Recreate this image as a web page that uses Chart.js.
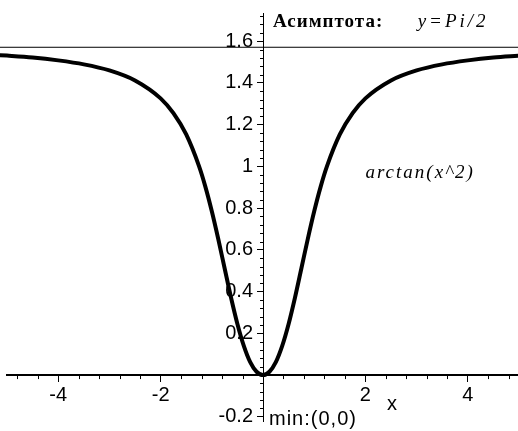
<!DOCTYPE html>
<html>
<head>
<meta charset="utf-8">
<script src="https://cdn.jsdelivr.net/npm/chart.js@4"></script>
<style>
  html, body { margin: 0; padding: 0; background: #fff; overflow: hidden; }
  #wrap { width: 518px; height: 431px; }
</style>
</head>
<body>
<div id="wrap"><canvas id="chart"></canvas></div>
<script>
// values: y = arctan(x^2)
const curveX = [-5.2, -5, -4.5, -4, -3.5, -3, -2.5, -2, -1.75, -1.5, -1.25, -1.125, -1, -0.875, -0.75, -0.625, -0.5, -0.375, -0.25, -0.125, 0,
                0.125, 0.25, 0.375, 0.5, 0.625, 0.75, 0.875, 1, 1.125, 1.25, 1.5, 1.75, 2, 2.5, 3, 3.5, 4, 4.5, 5];
const curveY = [1.534, 1.531, 1.522, 1.508, 1.489, 1.460, 1.412, 1.326, 1.255, 1.153, 1.001, 0.902, 0.785, 0.653, 0.512, 0.372, 0.245, 0.140, 0.062, 0.016, 0,
                0.016, 0.062, 0.140, 0.245, 0.372, 0.512, 0.653, 0.785, 0.902, 1.001, 1.153, 1.255, 1.326, 1.412, 1.460, 1.489, 1.508, 1.522, 1.531];
const asymptoteX = [-5.2, 5];
const asymptoteY = [1.5708, 1.5708];

const xTicks = [-4, -2, 2, 4];
const yTicks = [-0.2, 0.2, 0.4, 0.6, 0.8, 1, 1.2, 1.4, 1.6];

const toPoints = (xs, ys) => xs.map((x, i) => ({ x: x, y: ys[i] }));

// axes sit inside the plot, so they take no room of their own
const noRoom = s => {
  if (s.isHorizontal()) s.height = 0; else s.width = 0;
  s.paddingLeft = s.paddingRight = s.paddingTop = s.paddingBottom = 0;
};

// minor tick marks and text labels, placed through the chart scales
const extras = {
  id: 'extras',
  afterDraw(chart) {
    const ctx = chart.ctx;
    const xs = chart.scales.x, ys = chart.scales.y;
    const x0 = xs.getPixelForValue(0), y0 = ys.getPixelForValue(0);
    ctx.save();
    ctx.strokeStyle = '#000';
    ctx.lineWidth = 1;
    ctx.beginPath();
    for (let i = -12; i <= 12; i++) {
      if (i % 5 === 0) continue;
      const px = Math.round(xs.getPixelForValue(i * 0.4)) + 0.5;
      if (px < chart.chartArea.left) continue;
      ctx.moveTo(px, y0);
      ctx.lineTo(px, y0 + 4);
    }
    for (let i = -5; i <= 43; i++) {
      if (i % 5 === 0) continue;
      const py = Math.round(ys.getPixelForValue(i * 0.04)) + 0.5;
      ctx.moveTo(x0, py);
      ctx.lineTo(x0 - 3, py);
    }
    ctx.stroke();

    ctx.fillStyle = '#000';
    ctx.textBaseline = 'alphabetic';
    ctx.textAlign = 'left';
    ctx.font = 'bold 19px "Liberation Serif", serif';
    ctx.letterSpacing = '1px';
    ctx.fillText('Асимптота:', x0 + 10, 27);
    ctx.font = 'italic 19px "Liberation Serif", serif';
    ctx.letterSpacing = '3px';
    ctx.fillText('y=Pi/2', xs.getPixelForValue(3.02), 27);
    ctx.letterSpacing = '2px';
    ctx.fillText('arctan(x^2)', xs.getPixelForValue(2.0), 178);
    ctx.font = '20px "Liberation Sans", Arial, sans-serif';
    ctx.letterSpacing = '0px';
    ctx.fillText('x', xs.getPixelForValue(2.42), 410);
    ctx.letterSpacing = '1px';
    ctx.fillText('min:(0,0)', x0 + 6, 425);
    ctx.restore();
  }
};

new Chart(document.getElementById('chart'), {
  type: 'line',
  data: {
    datasets: [
      {
        data: toPoints(asymptoteX, asymptoteY),
        borderColor: '#000',
        borderWidth: 1,
        pointRadius: 0,
        clip: false
      },
      {
        data: toPoints(curveX, curveY),
        borderColor: '#000',
        borderWidth: 4,
        pointRadius: 0,
        cubicInterpolationMode: 'monotone',
        clip: false
      }
    ]
  },
  options: {
    responsive: true,
    maintainAspectRatio: false,
    animation: false,
    layout: { padding: { left: 7, right: 0, top: 13, bottom: 10 } },
    plugins: { legend: { display: false }, tooltip: { enabled: false } },
    scales: {
      x: {
        type: 'linear',
        min: -5,
        max: 4.98,
        position: { y: 0 },
        afterFit: noRoom,
        afterBuildTicks: s => { s.ticks = xTicks.map(v => ({ value: v })); },
        grid: { drawOnChartArea: false, drawTicks: true, tickLength: 6, tickColor: '#000', tickWidth: 1 },
        border: { display: true, color: '#000', width: 2 },
        ticks: {
          color: '#000',
          padding: 2,
          maxRotation: 0,
          font: { family: '"Liberation Sans", Arial, sans-serif', size: 20 },
          callback: v => String(v)
        }
      },
      y: {
        type: 'linear',
        min: -0.22,
        max: 1.735,
        position: { x: 0 },
        afterFit: noRoom,
        afterBuildTicks: s => { s.ticks = yTicks.map(v => ({ value: v })); },
        grid: { drawOnChartArea: false, drawTicks: true, tickLength: 6, tickColor: '#000', tickWidth: 1 },
        border: { display: true, color: '#000', width: 1 },
        ticks: {
          color: '#000',
          font: { family: '"Liberation Sans", Arial, sans-serif', size: 20 },
          // label sits right-aligned on the axis line; an en space keeps it clear of the ticks
          callback: v => String(Math.round(v * 10) / 10) + '\u2002'
        }
      }
    }
  },
  plugins: [extras]
});
</script>
</body>
</html>
